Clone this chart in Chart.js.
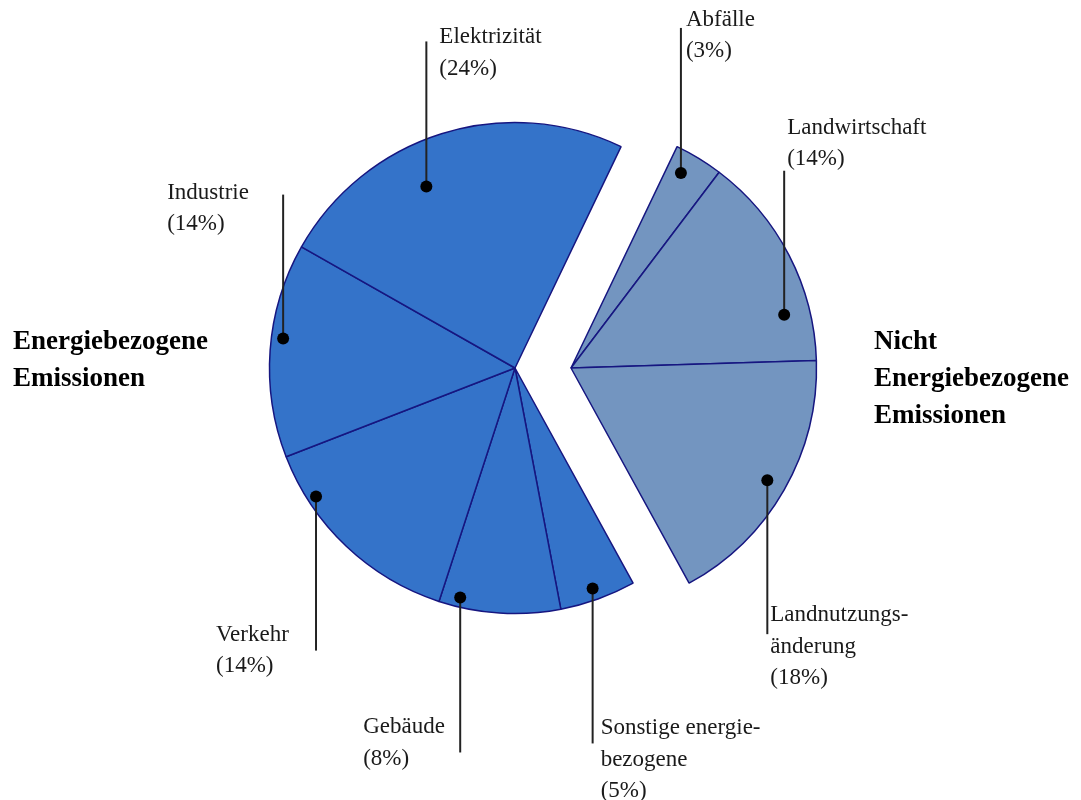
<!DOCTYPE html>
<html>
<head>
<meta charset="utf-8">
<script src="https://cdn.jsdelivr.net/npm/chart.js@4/dist/chart.umd.min.js"></script>
<style>
  body { margin: 0; background: #fff; }
  #wrap { width: 1081px; height: 800px; }
</style>
</head>
<body>
<div id="wrap"><canvas id="emissionsChart" width="1081" height="800"></canvas></div>
<script>
// slices, clockwise from the gap at the top
const labels = ['Abfälle', 'Landwirtschaft', 'Landnutzungsänderung', 'Sonstige energiebezogene', 'Gebäude', 'Verkehr', 'Industrie', 'Elektrizität'];
// slice sizes (arcs are not exactly the rounded %)
const shares = [3.2, 14.2, 17.5, 5.0, 8.0, 14.1, 14.1, 23.9];
// percentages as printed in the labels
const percents = [3, 14, 18, 5, 8, 14, 14, 24];
const groups = ['non', 'non', 'non', 'energy', 'energy', 'energy', 'energy', 'energy'];
const labelLines = [['Abfälle'], ['Landwirtschaft'], ['Landnutzungs-', 'änderung'], ['Sonstige energie-', 'bezogene'], ['Gebäude'], ['Verkehr'], ['Industrie'], ['Elektrizität']];
const groupTitles = [['Energiebezogene', 'Emissionen'], ['Nicht', 'Energiebezogene', 'Emissionen']];

const colors = { energy: '#3473c9', non: '#7395c0' };
const shift = { energy: -28, non: 28 };

// where each dot sits inside its slice (fraction along angle, fraction of radius)
// and where line end / text go relative to the dot
const labelLayout = [
  { f: 0.33, rf: 0.912, line: -145, dx: 5, dy: -147 },
  { f: 0.76, rf: 0.895, line: -144, dx: 3, dy: -181 },
  { f: 0.50, rf: 0.921, line: 154, dx: 3, dy: 141 },
  { f: 0.52, rf: 0.952, line: 155, dx: 8, dy: 146 },
  { f: 0.84, rf: 0.961, line: 155, dx: -97, dy: 136 },
  { f: 0.77, rf: 0.965, line: 154, dx: -100, dy: 144 },
  { f: 0.56, rf: 0.952, line: -144, dx: -116, dy: -140 },
  { f: 0.40, rf: 0.823, line: -145, dx: 13, dy: -143 }
];
const titleLayout = [{ x: 13, y: 349 }, { x: 874, y: 349 }];

const groupShift = {
  id: 'groupShift',
  afterDatasetUpdate(chart, args) {
    args.meta.data.forEach((arc, i) => {
      arc.x += shift[groups[i]];
    });
  }
};

const leaderLabels = {
  id: 'leaderLabels',
  afterDatasetsDraw(chart) {
    const ctx = chart.ctx;
    const arcs = chart.getDatasetMeta(0).data;
    ctx.save();
    arcs.forEach((arc, i) => {
      const spec = labelLayout[i];
      const a = arc.startAngle + spec.f * (arc.endAngle - arc.startAngle);
      const r = spec.rf * arc.outerRadius;
      const x = arc.x + Math.cos(a) * r;
      const y = arc.y + Math.sin(a) * r;

      ctx.strokeStyle = '#222';
      ctx.lineWidth = 2;
      ctx.beginPath();
      ctx.moveTo(x, y);
      ctx.lineTo(x, y + spec.line);
      ctx.stroke();

      ctx.fillStyle = '#000';
      ctx.beginPath();
      ctx.arc(x, y, 6, 0, Math.PI * 2);
      ctx.fill();

      const lines = labelLines[i].concat('(' + percents[i] + '%)');
      ctx.fillStyle = '#1a1a1a';
      ctx.font = '23px "Liberation Serif"';
      ctx.textAlign = 'left';
      ctx.textBaseline = 'alphabetic';
      lines.forEach((t, k) => {
        ctx.fillText(t, x + spec.dx, y + spec.dy + k * 31.5);
      });
    });

    ctx.fillStyle = '#000';
    ctx.font = 'bold 27px "Liberation Serif"';
    groupTitles.forEach((title, g) => {
      title.forEach((t, k) => {
        ctx.fillText(t, titleLayout[g].x, titleLayout[g].y + k * 37);
      });
    });
    ctx.restore();
  }
};

new Chart(document.getElementById('emissionsChart'), {
  type: 'pie',
  data: {
    labels: labels,
    datasets: [{
      data: shares,
      backgroundColor: groups.map(g => colors[g]),
      borderColor: '#161680',
      borderWidth: 1.5,
      rotation: 25.6,
      radius: 245.5
    }]
  },
  options: {
    responsive: false,
    animation: false,
    events: [],
    layout: { padding: { left: 50, right: 45, top: 50, bottom: 114 } },
    plugins: {
      legend: { display: false },
      tooltip: { enabled: false }
    }
  },
  plugins: [groupShift, leaderLabels]
});
</script>
</body>
</html>
